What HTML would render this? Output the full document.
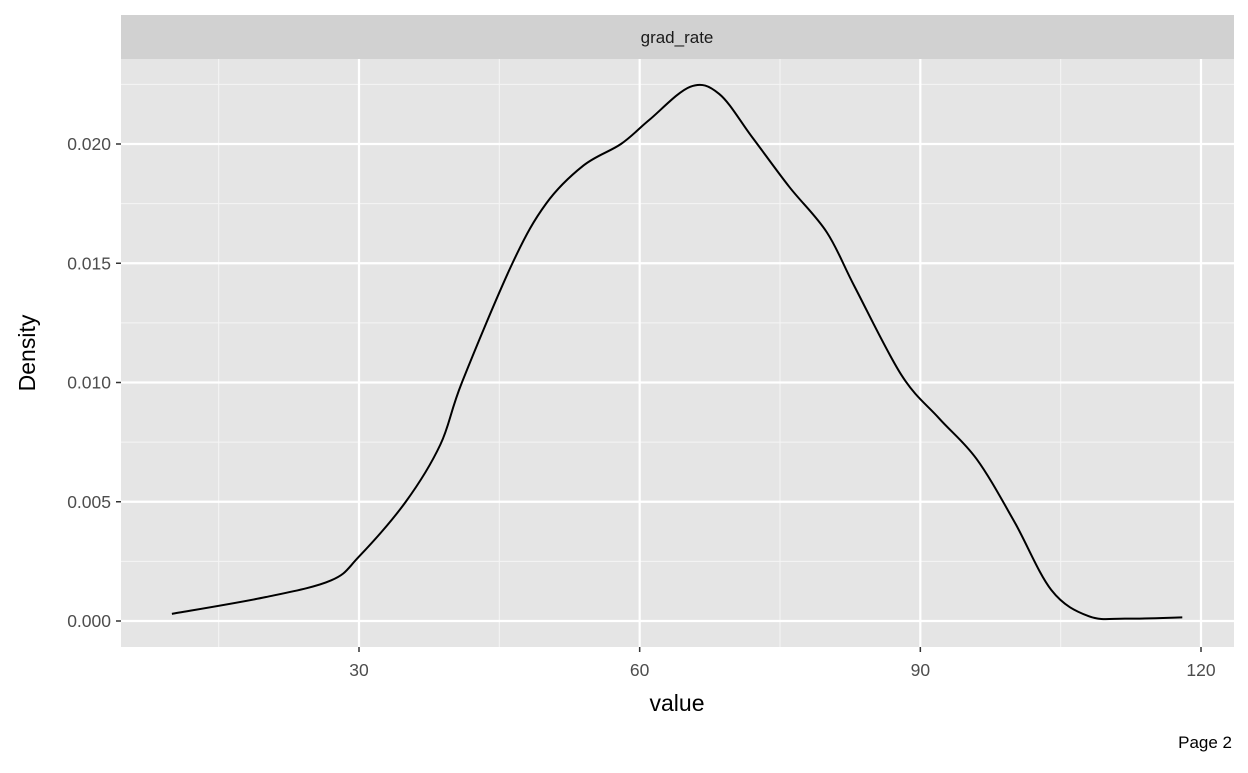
<!DOCTYPE html>
<html><head><meta charset="utf-8"><style>
body{margin:0;background:#fff;font-family:"Liberation Sans",Arial,sans-serif}
</style></head><body>
<svg width="1248" height="768" viewBox="0 0 1248 768" font-family="Liberation Sans, Arial, sans-serif">
<rect x="121" y="15" width="1113" height="44" fill="#d1d1d1"/>
<text x="677" y="43" font-size="17" text-anchor="middle" fill="#1a1a1a">grad_rate</text>
<rect x="121" y="59" width="1113" height="588" fill="#e5e5e5"/>
<g id="grid"></g>
<path id="curve" fill="none" stroke="#000" stroke-width="2"/>
<g id="axes"></g>
<text x="677" y="711" font-size="23" text-anchor="middle" fill="#000">value</text>
<text transform="translate(35,353) rotate(-90)" font-size="23" text-anchor="middle" fill="#000">Density</text>
<text x="1232" y="748" font-size="17" text-anchor="end" fill="#000">Page 2</text>
</svg>
<script>
const xs=[10,20,27,30,35,38.7,41,46.4,50,54,58,61,65.4,68.5,72,76,80,83,88,92,96,100,104,108,112,118];
const ys=[.0003,.0010,.0017,.0027,.0050,.0074,.0100,.0150,.0175,.0191,.0200,.0210,.0224,.0221,.0203,.0182,.0163,.0140,.0103,.0085,.0068,.0042,.0013,.0002,.0001,.00015];
const xTicks=[30,60,90,120];
const xMinor=[15,45,75,105];
const yTicks=[0,0.005,0.010,0.015,0.020];
const yMinor=[0.0025,0.0075,0.0125,0.0175,0.0225];
const yLabels=["0.000","0.005","0.010","0.015","0.020"];
const X=v=>359+(v-30)*(1201-359)/90;
const Y=v=>621-v*(621-144)/0.02;
const ns="http://www.w3.org/2000/svg";
const g=document.getElementById('grid'),a=document.getElementById('axes');
function ln(p,x1,y1,x2,y2,w,c){const l=document.createElementNS(ns,'line');l.setAttribute('x1',x1);l.setAttribute('y1',y1);l.setAttribute('x2',x2);l.setAttribute('y2',y2);l.setAttribute('stroke',c);l.setAttribute('stroke-width',w);p.appendChild(l);return l;}
function tx(p,x,y,s,anc){const t=document.createElementNS(ns,'text');t.setAttribute('x',x);t.setAttribute('y',y);t.setAttribute('font-size',17.5);t.setAttribute('fill','#4d4d4d');t.setAttribute('text-anchor',anc);t.textContent=s;p.appendChild(t);return t;}
xMinor.forEach(v=>{const l=ln(g,X(v),59,X(v),647,1,'#f5f5f5');

});
yMinor.forEach(v=>{const l=ln(g,121,Y(v),1234,Y(v),1,'#f5f5f5');

});
xTicks.forEach(v=>{const l=ln(g,X(v),59,X(v),647,2.2,'#fff');


const k=ln(a,X(v),647,X(v),652,1.5,'#333');


const t=tx(a,X(v),676,String(v),'middle');

});
yTicks.forEach((v,i)=>{const l=ln(g,121,Y(v),1234,Y(v),2.2,'#fff');


const k=ln(a,116,Y(v),121,Y(v),1.5,'#333');


const t=tx(a,111,Y(v)+6,yLabels[i],'end');

});
const P=xs.map((v,i)=>[X(v),Y(ys[i])]);
let d='M'+P[0][0]+','+P[0][1];
for(let i=0;i<P.length-1;i++){const p0=P[Math.max(0,i-1)],p1=P[i],p2=P[i+1],p3=P[Math.min(P.length-1,i+2)];
d+=' C'+(p1[0]+(p2[0]-p0[0])/6)+','+(p1[1]+(p2[1]-p0[1])/6)+' '+(p2[0]-(p3[0]-p1[0])/6)+','+(p2[1]-(p3[1]-p1[1])/6)+' '+p2[0]+','+p2[1];}
document.getElementById('curve').setAttribute('d',d);
</script>
</body></html>
